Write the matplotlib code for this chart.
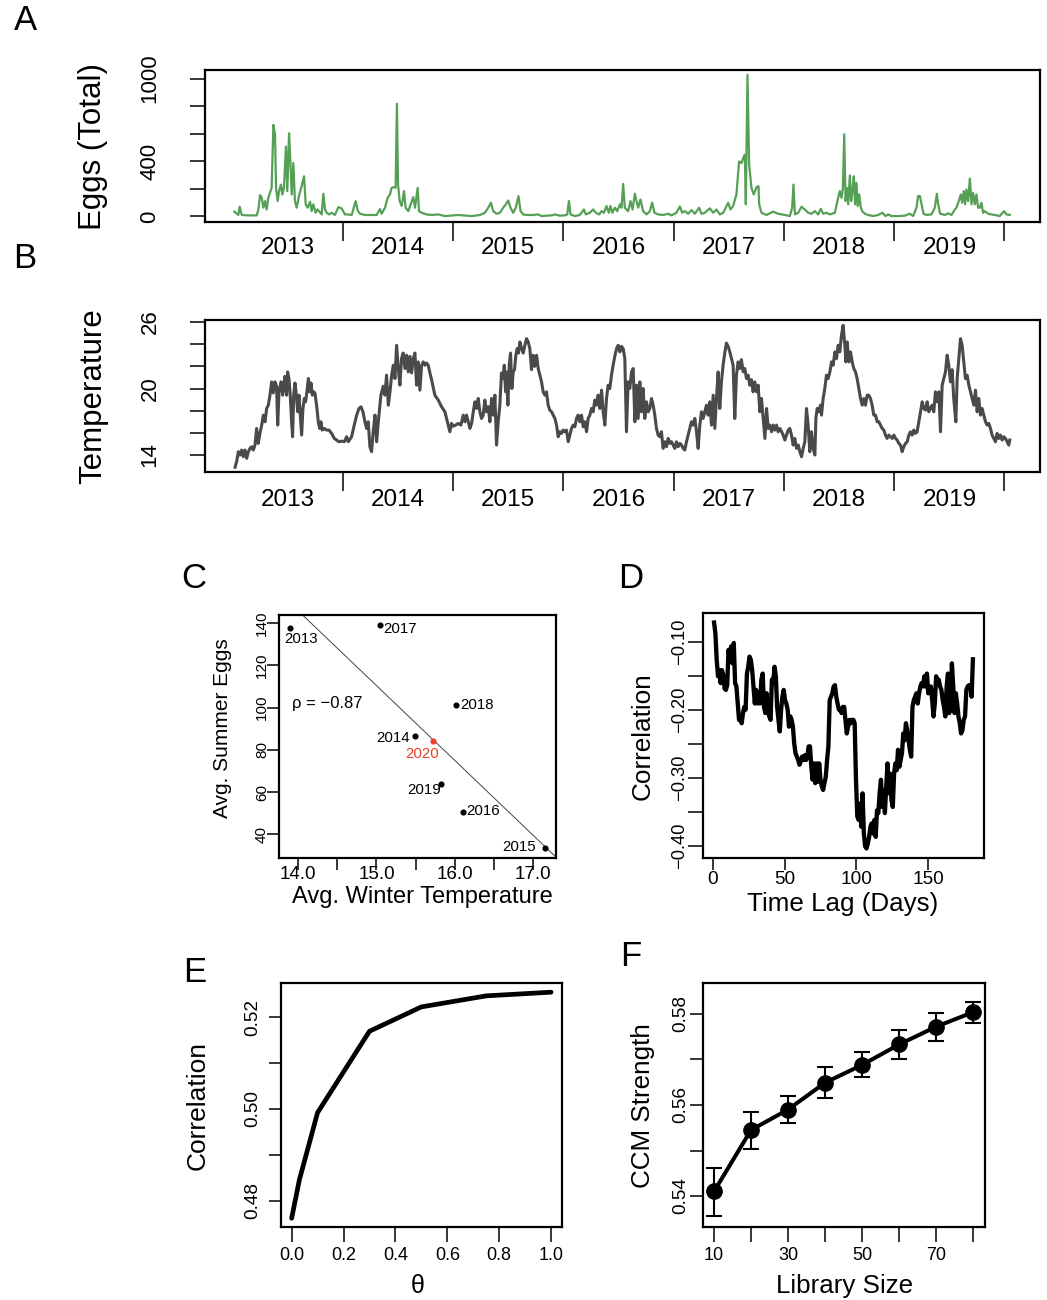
import numpy as np
import matplotlib
matplotlib.use('Agg')
import matplotlib.pyplot as plt

plt.rcParams['font.family'] = ['Liberation Sans', 'DejaVu Sans']

# ---------------- A: eggs (total), fractional year within each year ----------------
egg13_t = [.018, .054, .066, .085, .145, .221, .236, .251, .266, .281,
           .296, .311, .326, .356, .372, .387, .396, .411, .423, .441,
           .453, .468, .486, .498, .514, .526, .538, .553, .567, .583,
           .607, .628, .650, .665, .683, .704, .719, .734, .755, .773,
           .810, .825, .840, .855, .876, .900, .930, .961, .991]
egg13_n = [34, 10, 70, 10, 7, 7, 50, 154, 135, 63,
           111, 50, 135, 207, 664, 596, 207, 111, 183, 231,
           159, 207, 507, 183, 604, 399, 159, 387, 111, 63,
           159, 219, 291, 87, 63, 106, 38, 87, 26, 50,
           14, 164, 50, 26, 14, 26, 10, 67, 58]
egg14_t = [.021, .051, .082, .118, .136, .157, .202, .263, .308, .338,
           .353, .384, .408, .429, .444, .465, .480, .492, .502, .517,
           .535, .556, .571, .595, .640, .656, .680, .692, .716, .761,
           .807, .867, .928]
egg14_n = [14, 14, 10, 111, 43, 19, 10, 10, 10, 53,
           19, 63, 135, 159, 207, 212, 207, 818, 231, 111,
           75, 183, 63, 38, 140, 63, 207, 38, 26, 14,
           10, 14, 2]
egg15_t = [.048, .169, .244, .289, .320, .344, .365, .395, .425, .455,
           .480, .501, .522, .546, .570, .594, .613, .637, .667, .727,
           .773, .803, .848, .894, .924, .969]
egg15_n = [10, 2, 10, 26, 63, 99, 38, 19, 26, 63,
           87, 115, 63, 26, 63, 147, 38, 14, 10, 10,
           14, 2, 5, 7, 14, 5]
egg16_t = [.014, .036, .051, .066, .105, .150, .187, .205, .241, .271,
           .295, .326, .347, .368, .392, .413, .428, .446, .468, .489,
           .513, .528, .543, .558, .588, .610, .628, .649, .664, .679,
           .700, .724, .755, .785, .806, .827, .860, .906, .951, .981]
egg16_n = [7, 14, 111, 14, 2, 10, 50, 14, 26, 50,
           26, 14, 38, 26, 75, 26, 75, 26, 63, 38,
           87, 63, 236, 63, 38, 111, 50, 164, 111, 63,
           123, 38, 14, 38, 99, 26, 14, 10, 19, 7]
egg17_t = [.026, .057, .078, .102, .132, .162, .193, .232, .253, .283,
           .329, .359, .389, .419, .450, .495, .516, .540, .570, .594,
           .616, .631, .646, .655, .670, .685, .706, .727, .752, .770,
           .776, .797, .843, .903, .948]
egg17_n = [26, 72, 26, 38, 19, 46, 19, 63, 19, 26,
           58, 26, 50, 14, 26, 99, 50, 75, 159, 399,
           387, 423, 447, 87, 1029, 375, 207, 159, 212, 219,
           87, 26, 10, 34, 19]
egg18_t = [.009, .054, .075, .087, .100, .130, .160, .190, .220, .251,
           .281, .311, .335, .356, .387, .417, .462, .492, .507, .523,
           .535, .547, .559, .571, .583, .598, .610, .622, .634, .646,
           .658, .670, .683, .698, .710, .734, .764, .809, .855, .894,
           .921, .945, .976]
egg18_n = [10, 2, 63, 231, 14, 26, 70, 50, 26, 19,
           38, 14, 55, 19, 26, 14, 26, 135, 183, 135,
           207, 596, 111, 207, 87, 298, 111, 183, 291, 87,
           243, 75, 159, 63, 38, 19, 10, 2, 10, 26,
           2, 14, 2]
egg19_t = [.036, .097, .142, .172, .202, .217, .233, .248, .266, .293,
           .338, .368, .387, .399, .417, .459, .489, .520, .550, .565,
           .586, .604, .616, .631, .643, .655, .671, .686, .701, .716,
           .731, .746, .761, .776, .791, .806, .821, .852, .882, .912,
           .957, .978, .996]
egg19_n = [2, 5, 19, 2, 63, 147, 147, 87, 19, 10,
           14, 63, 164, 87, 19, 10, 22, 10, 50, 63,
           111, 159, 99, 183, 87, 195, 111, 274, 87, 171,
           87, 159, 63, 63, 99, 26, 38, 19, 14, 10,
           2, 22, 38]
egg20_t = [.018, .048]
egg20_n = [14, 10]

# ---------------- B: temperature ----------------
tmp13_t = [.024, .039, .054, .069, .084, .099, .114, .130, .145, .160,
           .175, .190, .205, .220, .235, .250, .266, .281, .296, .311,
           .326, .341, .356, .371, .386, .401, .411, .423, .441, .456,
           .468, .477, .492, .501, .513, .525, .537, .546, .556, .568,
           .580, .592, .604, .616, .628, .640, .652, .664, .676, .689,
           .701, .713, .725, .737, .749, .767, .779, .791, .803, .815,
           .833, .854, .876, .900, .924, .945, .966, .991]
tmp13_c = [12.9, 13.4, 14.3, 14.0, 14.45, 13.85, 14.45, 13.7, 14.3, 14.6,
           14.75, 14.45, 14.9, 16.4, 15.05, 15.95, 16.7, 17.6, 17.0, 18.2,
           18.5, 19.4, 20.6, 19.6, 20.6, 20.2, 16.7, 19.7, 20.6, 19.4,
           20.5, 21.1, 19.4, 21.5, 20.9, 19.4, 17.0, 15.65, 19.4, 20.5,
           19.4, 17.9, 19.4, 17.6, 15.8, 18.2, 19.1, 18.8, 19.7, 20.9,
           19.7, 20.5, 19.4, 19.7, 19.6, 18.2, 17.0, 16.4, 17.0, 16.25,
           16.4, 16.25, 16.25, 15.95, 15.5, 15.35, 15.2, 15.25]
tmp14_t = [.015, .036, .051, .081, .105, .127, .148, .166, .184, .202,
           .217, .232, .247, .262, .278, .293, .308, .323, .347, .368,
           .383, .398, .414, .429, .444, .459, .474, .489, .504, .519,
           .534, .549, .565, .580, .595, .610, .625, .640, .655, .670,
           .685, .700, .716, .731, .746, .761, .776, .791, .806, .836,
           .867, .897, .927, .942, .957, .972, .987]
tmp14_c = [15.2, 15.65, 15.2, 15.65, 16.7, 17.6, 18.2, 18.35, 17.9, 17.0,
           16.4, 17.0, 14.75, 14.3, 16.25, 17.6, 15.2, 17.0, 19.4, 20.2,
           19.4, 21.2, 18.5, 19.7, 21.2, 22.1, 20.9, 23.9, 21.8, 20.3,
           22.7, 23.2, 21.8, 23.0, 21.5, 22.9, 21.4, 22.7, 23.2, 20.3,
           22.4, 19.85, 22.1, 22.4, 22.1, 22.3, 22.1, 21.4, 20.8, 19.4,
           18.95, 18.35, 17.9, 17.3, 16.7, 16.1, 16.85]
tmp15_t = [.003, .024, .048, .072, .093, .108, .123, .138, .154, .169,
           .184, .199, .214, .229, .244, .259, .274, .289, .304, .320,
           .335, .350, .365, .380, .395, .410, .425, .440, .455, .465,
           .477, .486, .498, .510, .522, .534, .546, .558, .570, .582,
           .594, .607, .622, .637, .652, .667, .682, .697, .712, .727,
           .742, .758, .773, .788, .803, .818, .833, .848, .863, .878,
           .894, .909, .924, .939, .954, .969, .984, .999]
tmp15_c = [16.6, 16.7, 16.85, 16.7, 17.6, 17.0, 17.6, 17.0, 16.4, 16.85,
           17.9, 18.8, 18.2, 19.1, 17.9, 17.3, 17.6, 18.96, 17.9, 18.36,
           17.0, 19.1, 17.6, 19.4, 14.9, 17.0, 18.5, 21.4, 20.9, 22.1,
           19.7, 21.5, 18.5, 22.1, 23.2, 20.0, 21.5, 21.7, 23.0, 23.6,
           23.2, 24.2, 23.6, 23.2, 23.9, 24.5, 24.2, 23.6, 21.7, 23.0,
           22.0, 23.0, 21.8, 21.2, 20.6, 19.7, 19.4, 19.7, 18.5, 18.05,
           17.9, 17.6, 17.3, 16.7, 15.65, 16.1, 15.95, 16.25]
tmp16_t = [.014, .029, .045, .060, .075, .090, .105, .120, .135, .150,
           .165, .181, .196, .211, .226, .241, .256, .271, .286, .301,
           .316, .332, .347, .362, .377, .392, .407, .422, .437, .452,
           .467, .483, .498, .513, .528, .543, .558, .573, .588, .603,
           .619, .634, .649, .664, .679, .694, .709, .724, .739, .754,
           .770, .785, .800, .815, .830, .845, .860, .875, .890, .905,
           .921, .936, .951, .966, .981, .996]
tmp16_c = [16.1, 16.25, 15.2, 15.8, 16.4, 16.7, 16.55, 17.3, 17.6, 17.0,
           17.6, 16.55, 17.0, 16.1, 17.3, 17.6, 18.2, 17.9, 18.96, 18.5,
           19.4, 18.2, 19.85, 17.9, 16.7, 19.1, 20.3, 20.0, 21.2, 22.1,
           22.9, 23.6, 23.9, 23.3, 23.8, 23.6, 22.7, 16.1, 20.6, 20.0,
           21.5, 21.8, 17.0, 20.3, 17.3, 20.6, 17.9, 20.0, 17.3, 18.8,
           17.9, 18.2, 19.1, 18.5, 17.6, 16.4, 15.8, 15.65, 16.1, 14.6,
           15.2, 14.75, 15.5, 15.05, 15.2, 14.9]
tmp17_t = [.011, .026, .041, .057, .072, .087, .102, .117, .132, .147,
           .162, .177, .193, .208, .223, .238, .253, .268, .283, .298,
           .313, .328, .344, .359, .374, .389, .404, .419, .434, .449,
           .464, .479, .495, .510, .525, .540, .555, .570, .585, .600,
           .615, .631, .646, .661, .676, .691, .706, .721, .736, .752,
           .767, .782, .797, .813, .828, .843, .858, .873, .888, .903,
           .918, .933, .948, .964, .979, .994]
tmp17_c = [14.6, 15.2, 14.75, 15.05, 14.9, 14.6, 14.45, 15.2, 15.8, 16.4,
           17.0, 16.7, 17.3, 16.1, 14.6, 16.7, 17.9, 17.3, 17.9, 18.5,
           17.6, 18.8, 16.7, 19.4, 16.4, 19.1, 21.5, 18.2, 20.6, 22.1,
           23.2, 24.1, 23.8, 23.3, 22.7, 22.1, 17.3, 21.2, 22.4, 21.8,
           22.6, 21.5, 21.8, 20.9, 21.2, 20.3, 20.8, 19.7, 20.6, 19.7,
           20.3, 17.9, 19.1, 17.3, 15.5, 18.2, 16.4, 16.7, 16.1, 16.7,
           16.25, 16.7, 16.1, 16.4, 16.1, 15.8]
tmp18_t = [.009, .024, .039, .054, .069, .084, .099, .115, .130, .145,
           .160, .175, .190, .205, .220, .235, .250, .266, .281, .290,
           .302, .317, .332, .341, .356, .371, .386, .401, .417, .432,
           .447, .462, .477, .492, .507, .522, .537, .553, .562, .574,
           .589, .604, .619, .634, .649, .664, .680, .695, .710, .725,
           .740, .755, .770, .785, .800, .815, .831, .846, .861, .876,
           .891, .906, .921, .936, .951, .966, .982, .997]
tmp18_c = [15.35, 15.8, 16.25, 16.4, 15.8, 14.9, 15.5, 14.6, 14.9, 14.3,
           13.85, 14.6, 15.2, 18.2, 16.7, 14.3, 16.1, 14.6, 14.0, 17.3,
           18.2, 17.9, 18.5, 17.6, 19.1, 20.0, 21.2, 20.9, 21.5, 22.4,
           22.1, 23.3, 22.7, 23.9, 23.3, 24.8, 25.7, 23.9, 22.4, 24.2,
           22.4, 23.3, 22.4, 21.8, 21.5, 20.9, 20.0, 19.1, 18.5, 19.1,
           18.5, 19.4, 19.4, 19.1, 18.5, 17.6, 17.6, 17.0, 17.0, 16.7,
           16.4, 16.25, 15.8, 15.5, 15.8, 15.65, 15.5, 15.8]
tmp19_t = [.012, .027, .042, .057, .072, .087, .103, .118, .133, .148,
           .163, .178, .193, .208, .223, .238, .254, .269, .284, .299,
           .314, .329, .344, .359, .374, .389, .405, .420, .435, .450,
           .465, .480, .495, .510, .525, .540, .559, .571, .586, .601,
           .616, .631, .646, .661, .677, .692, .707, .722, .737, .752,
           .767, .782, .797, .812, .828, .843, .858, .873, .888, .903,
           .918, .933, .948, .963, .979, .994]
tmp19_c = [15.5, 15.35, 15.05, 14.9, 14.3, 14.75, 15.05, 15.2, 15.8, 16.1,
           15.8, 16.25, 15.95, 16.1, 17.0, 17.9, 18.8, 18.2, 18.05, 18.8,
           17.9, 18.2, 18.5, 17.9, 19.7, 18.8, 19.7, 16.1, 20.3, 20.9,
           21.5, 23.0, 22.1, 20.6, 21.7, 19.1, 17.0, 20.9, 22.7, 24.5,
           23.9, 22.4, 20.9, 21.2, 20.3, 19.7, 19.1, 18.5, 19.85, 17.9,
           19.1, 17.6, 18.2, 17.6, 17.0, 16.7, 16.85, 16.4, 15.8, 15.5,
           15.2, 15.95, 15.5, 15.8, 15.35, 15.65]
tmp20_t = [.009, .024, .039, .048]
tmp20_c = [15.5, 15.2, 14.9, 15.35]

years = list(range(2013, 2021))
year_labels = ['2013', '2014', '2015', '2016', '2017', '2018', '2019']

# ---------------- C: winter temperature vs summer eggs ----------------
c_years = ['2013', '2014', '2015', '2016', '2017', '2018', '2019']
c_temp = [13.90, 15.49, 17.15, 16.10, 15.04, 16.02, 15.82]
c_eggs = [137.6, 86.7, 33.4, 50.6, 139.2, 101.4, 64.0]
pred_year, pred_temp, pred_eggs = '2020', 15.72, 84.1

# ---------------- D: lagged correlation ----------------
d_corr = [-0.072, -0.088, -0.127, -0.151, -0.142, -0.161, -0.142, -0.149, -0.169, -0.171,
          -0.164, -0.112, -0.127, -0.107, -0.132, -0.102, -0.161, -0.166, -0.191, -0.215,
          -0.215, -0.220, -0.205, -0.196, -0.200, -0.147, -0.137, -0.122, -0.127, -0.142,
          -0.166, -0.191, -0.171, -0.191, -0.176, -0.191, -0.156, -0.147, -0.196, -0.205,
          -0.176, -0.200, -0.210, -0.215, -0.156, -0.161, -0.137, -0.151, -0.196, -0.215,
          -0.232, -0.200, -0.181, -0.171, -0.186, -0.191, -0.200, -0.225, -0.210, -0.215,
          -0.225, -0.250, -0.264, -0.269, -0.274, -0.281, -0.276, -0.269, -0.274, -0.267,
          -0.274, -0.269, -0.254, -0.254, -0.284, -0.303, -0.279, -0.308, -0.279, -0.306,
          -0.279, -0.303, -0.313, -0.318, -0.308, -0.299, -0.274, -0.254, -0.186, -0.181,
          -0.176, -0.166, -0.164, -0.181, -0.191, -0.200, -0.200, -0.205, -0.196, -0.196,
          -0.215, -0.235, -0.225, -0.215, -0.220, -0.215, -0.215, -0.220, -0.303, -0.357,
          -0.362, -0.338, -0.372, -0.323, -0.382, -0.401, -0.404, -0.397, -0.387, -0.372,
          -0.367, -0.382, -0.362, -0.387, -0.348, -0.352, -0.323, -0.303, -0.343, -0.318,
          -0.352, -0.313, -0.279, -0.323, -0.294, -0.333, -0.343, -0.294, -0.279, -0.289,
          -0.259, -0.284, -0.274, -0.264, -0.235, -0.245, -0.220, -0.230, -0.245, -0.259,
          -0.269, -0.196, -0.186, -0.181, -0.176, -0.191, -0.176, -0.166, -0.161, -0.166,
          -0.151, -0.166, -0.147, -0.176, -0.171, -0.166, -0.186, -0.210, -0.191, -0.151,
          -0.161, -0.156, -0.166, -0.171, -0.186, -0.196, -0.210, -0.166, -0.147, -0.205,
          -0.186, -0.132, -0.166, -0.205, -0.176, -0.191, -0.210, -0.220, -0.235, -0.230,
          -0.215, -0.210, -0.171, -0.166, -0.164, -0.166, -0.181, -0.126]
d_first_lag, d_last_lag = 1, 181

# ---------------- E: theta vs correlation ----------------
theta = [0.0, 0.03, 0.1, 0.3, 0.5, 0.75, 1.0]
e_rho = [0.4762, 0.4846, 0.4992, 0.5169, 0.5222, 0.5246, 0.5254]

# ---------------- F: CCM convergence ----------------
lib_size = [10, 20, 30, 40, 50, 60, 70, 80]
ccm_mean = [0.5410, 0.5545, 0.5590, 0.5649, 0.5688, 0.5733, 0.5772, 0.5804]
ccm_low = [0.5357, 0.5503, 0.5561, 0.5615, 0.5661, 0.5702, 0.5740, 0.5780]
ccm_high = [0.5462, 0.5585, 0.5620, 0.5683, 0.5716, 0.5765, 0.5803, 0.5827]


def join_years(parts):
    return np.concatenate([y + np.array(p) for y, p in zip(years, parts)])


egg_year = join_years([egg13_t, egg14_t, egg15_t, egg16_t, egg17_t, egg18_t, egg19_t, egg20_t])
egg_count = np.concatenate([egg13_n, egg14_n, egg15_n, egg16_n, egg17_n, egg18_n, egg19_n, egg20_n])
tmp_year = join_years([tmp13_t, tmp14_t, tmp15_t, tmp16_t, tmp17_t, tmp18_t, tmp19_t, tmp20_t])
tmp_c = np.concatenate([tmp13_c, tmp14_c, tmp15_c, tmp16_c, tmp17_c, tmp18_c, tmp19_c, tmp20_c])
d_lag = np.linspace(d_first_lag, d_last_lag, len(d_corr))

W, H = 1047, 1300
fig = plt.figure(figsize=(W / 100, H / 100), dpi=100)


def px_axes(left, top, right, bottom):
    return fig.add_axes([left / W, 1 - bottom / H, (right - left) / W, (bottom - top) / H])


def px_text(x, y, s, size, rot=0, **kw):
    fig.text(x / W, 1 - y / H, s, fontsize=size, rotation=rot, ha='center', va='center', **kw)


def frame(ax, xlen, ylen, xpad, ypad, xsize, ysize):
    for sp in ax.spines.values():
        sp.set_linewidth(1.6)
    ax.tick_params(axis='x', direction='out', length=xlen, width=1.1, pad=xpad, labelsize=xsize)
    ax.tick_params(axis='y', direction='out', length=ylen, width=1.1, pad=ypad, labelsize=ysize,
                   labelrotation=90)
    plt.setp(ax.get_yticklabels(), ha='center', va='center')
    plt.setp(ax.get_xticklabels(), va='center')


def year_axis(ax):
    ax.set_xlim(2012.752, 2020.322)
    ax.set_xticks(years[1:], [])
    ax.set_xticks([y + 0.5 for y in years[:-1]], year_labels, minor=True)
    ax.tick_params(axis='x', which='major', direction='out', length=13.7, width=1.1)
    ax.tick_params(axis='x', which='minor', length=0, pad=19, labelsize=17.5)
    plt.setp(ax.get_xticklabels(minor=True), va='center')


# A
axA = px_axes(205, 70, 1040, 222)
axA.plot(egg_year, egg_count, color='#55a055', lw=1.6, solid_joinstyle='round')
axA.set_ylim(-41, 1063)
axA.set_yticks([0, 200, 400, 600, 800, 1000], ['0', '', '400', '', '', '1000'])
frame(axA, 13.7, 10.8, 19, 28.8, 17.5, 16)
year_axis(axA)
px_text(93, 146, 'Eggs (Total)', 22.5, 90)

# B
axB = px_axes(205, 320, 1040, 472)
axB.plot(tmp_year, tmp_c, color='#4a4a4a', lw=2.2, solid_joinstyle='round')
axB.set_ylim(12.47, 26.18)
axB.set_yticks([14, 16, 18, 20, 22, 24, 26], ['14', '', '', '20', '', '', '26'])
frame(axB, 13.7, 10.8, 19, 28.8, 17.5, 16)
year_axis(axB)
axB.tick_params(axis='x', which='minor', pad=20)
px_text(93, 396, 'Temperature', 22.5, 90)

# C
axC = px_axes(279, 615, 556, 858)
slope, icpt = np.polyfit(c_temp, c_eggs, 1)
axC.axline((0, icpt), slope=slope, color='#444444', lw=0.7)
axC.plot(c_temp, c_eggs, 'o', color='black', ms=3.4)
axC.plot([pred_temp], [pred_eggs], 'o', color='#e8402a', ms=3.4)
c_offsets = {'2013': (7.9, -7.9, 'center'), '2014': (-3.8, -1.9, 'right'),
             '2015': (-6.7, 0.7, 'right'), '2016': (2.9, 0.9, 'left'),
             '2017': (2.4, -2.9, 'left'), '2018': (3.1, 0, 'left'),
             '2019': (-11.7, -4.5, 'center')}
for yr, xt, yv in zip(c_years, c_temp, c_eggs):
    dx, dy, ha = c_offsets[yr]
    axC.annotate(yr, (xt, yv), xytext=(dx, dy), textcoords='offset points',
                 ha=ha, va='center', fontsize=10.8)
axC.annotate(pred_year, (pred_temp, pred_eggs), xytext=(-8.1, -9.4), textcoords='offset points',
             ha='center', va='center', fontsize=10.8, color='#e8402a')
axC.text(13.92, 101.8, 'ρ = −0.87', fontsize=12, ha='left', va='center')
axC.set_xlim(13.757, 17.29)
axC.set_ylim(28.8, 143.9)
axC.set_xticks([14.0, 14.5, 15.0, 15.5, 16.0, 16.5, 17.0],
               ['14.0', '', '15.0', '', '16.0', '', '17.0'])
axC.set_yticks([40, 60, 80, 100, 120, 140])
frame(axC, 8.6, 8.6, 3.6, 3.6, 13.5, 11)
px_text(223, 728, 'Avg. Summer Eggs', 15, 90)
px_text(422, 897, 'Avg. Winter Temperature', 17)

# D
axD = px_axes(703, 613, 984, 858)
axD.plot(d_lag, d_corr, color='black', lw=3.1, solid_joinstyle='round')
axD.set_xlim(-6.7, 188.7)
axD.set_ylim(-0.418, -0.058)
axD.set_xticks([0, 50, 100, 150])
axD.set_yticks([-0.40, -0.35, -0.30, -0.25, -0.20, -0.15, -0.10],
               ['−0.40', '', '−0.30', '', '−0.20', '', '−0.10'])
frame(axD, 8.6, 10.8, 7.2, 5.8, 13.7, 13.2)
px_text(643, 736, 'Correlation', 18.8, 90)
px_text(843, 904, 'Time Lag (Days)', 18.7)

# E
axE = px_axes(281, 983, 562, 1227)
axE.plot(theta, e_rho, color='black', lw=3.4, solid_joinstyle='round', solid_capstyle='round')
axE.set_xlim(-0.041, 1.042)
axE.set_ylim(0.4743, 0.5274)
axE.set_xticks([0, 0.2, 0.4, 0.6, 0.8, 1.0], ['0.0', '0.2', '0.4', '0.6', '0.8', '1.0'])
axE.set_yticks([0.48, 0.49, 0.50, 0.51, 0.52], ['0.48', '', '0.50', '', '0.52'])
frame(axE, 10.8, 8.6, 9.4, 11.5, 13, 13.7)
px_text(198, 1106, 'Correlation', 19, 90)
px_text(418, 1286, 'θ', 18)

# F
axF = px_axes(703, 983, 985, 1227)
yerr = [np.array(ccm_mean) - np.array(ccm_low), np.array(ccm_high) - np.array(ccm_mean)]
axF.errorbar(lib_size, ccm_mean, yerr=yerr, fmt='-o', color='black', lw=2.9, ms=11,
             capsize=6, elinewidth=1.5, capthick=1.5)
axF.set_xlim(7.03, 83.2)
axF.set_ylim(0.5332, 0.5868)
axF.set_xticks(lib_size, ['10', '', '30', '', '50', '', '70', ''])
axF.set_yticks([0.54, 0.55, 0.56, 0.57, 0.58], ['0.54', '', '0.56', '', '0.58'])
frame(axF, 10.8, 9.4, 9.4, 6.5, 13, 13.7)
px_text(643, 1106, 'CCM Strength', 18.7, 90)
px_text(845, 1286, 'Library Size', 18.7)

# panel letters
for letter, x, y in [('A', 25, 21), ('B', 25, 258), ('C', 194, 579),
                     ('D', 631, 579), ('E', 195, 972), ('F', 631, 957)]:
    px_text(x, y, letter, 25)

fig.savefig('out.png', dpi=100)
